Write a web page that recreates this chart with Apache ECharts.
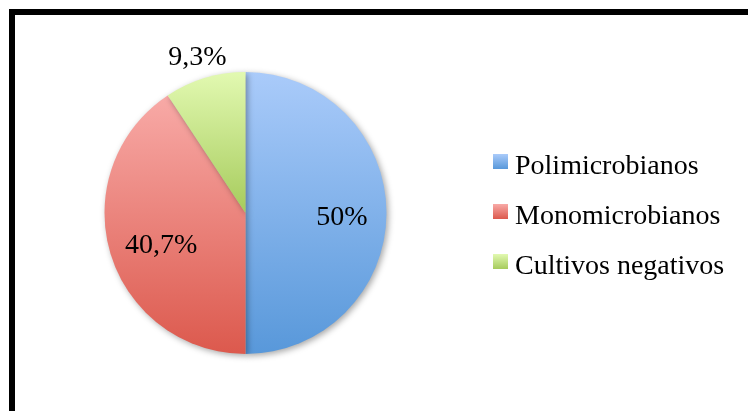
<!DOCTYPE html>
<html>
<head>
<meta charset="utf-8">
<script src="https://cdn.jsdelivr.net/npm/echarts@6/dist/echarts.min.js"></script>
<style>
  html, body { margin: 0; padding: 0; background: #fff; }
  #frame {
    position: absolute; left: 9px; top: 9px; right: 0; bottom: 0;
    border-left: 6px solid #000; border-top: 6px solid #000;
  }
  #chart { position: absolute; left: 0; top: 0; width: 748px; height: 411px; }
</style>
</head>
<body>
<div id="frame"></div>
<div id="chart"></div>
<script>
  // datos del gráfico
  var categories = ['Polimicrobianos', 'Monomicrobianos', 'Cultivos negativos']
  var values = [50, 40.7, 9.3]
  // colores degradados (arriba / abajo)
  var topColors = ['#aacbfa', '#f8aaa7', '#e2f9b1']
  var bottomColors = ['#5898da', '#dc594d', '#a6cb5c']

  function fmt (p) {
    var style = p.dataIndex === 1 ? 'r' : 't'
    return '{' + style + '|' + String(p.value).replace('.', ',') + '%}'
  }

  var mainData = categories.map(function (name, i) {
    return {
      name: name,
      value: values[i],
      itemStyle: {
        color: new echarts.graphic.LinearGradient(0, 0, 0, 1, [
          { offset: 0, color: topColors[i] },
          { offset: 1, color: bottomColors[i] }
        ])
      }
    }
  })
  // etiquetas interiores (las dos primeras) y exterior (la última)
  var innerLabelData = categories.map(function (name, i) {
    return { name: name, value: values[i], label: { show: i < 2 } }
  })
  var outerLabelData = categories.map(function (name, i) {
    return { name: name, value: values[i], label: { show: i === 2 } }
  })

  var center = [245.5, 213]
  var labelFont = { color: '#000', fontFamily: 'Liberation Serif', fontSize: 28 }
  var labelStyle = {
    position: 'inside',
    formatter: fmt,
    rich: {
      t: Object.assign({ padding: [10, 0, 0, 0] }, labelFont),
      r: Object.assign({ padding: [10, 0, 0, 16] }, labelFont)
    }
  }

  var option = {
    animation: false,
    legend: {
      orient: 'vertical',
      left: 493,
      top: 142,
      padding: 0,
      data: categories,
      icon: 'rect',
      itemWidth: 15,
      itemHeight: 15,
      itemGap: 11,
      selectedMode: false,
      formatter: '{t|{name}}',
      textStyle: {
        rich: {
          t: {
            fontFamily: 'Liberation Serif',
            fontSize: 28,
            color: '#000',
            lineHeight: 30,
            padding: [11, 0, 0, 2]
          }
        }
      }
    },
    series: [
      {
        type: 'pie',
        center: center,
        radius: [0, 141],
        startAngle: 90,
        clockwise: true,
        data: mainData,
        label: { show: false },
        labelLine: { show: false },
        emphasis: { disabled: true },
        itemStyle: {
          borderWidth: 0,
          shadowBlur: 6,
          shadowOffsetX: 2,
          shadowOffsetY: 2,
          shadowColor: 'rgba(0,0,0,0.35)'
        }
      },
      {
        type: 'pie',
        center: center,
        radius: [46, 141],
        startAngle: 90,
        silent: true,
        data: innerLabelData,
        itemStyle: { color: 'rgba(0,0,0,0)' },
        label: labelStyle,
        labelLine: { show: false },
        emphasis: { disabled: true }
      },
      {
        type: 'pie',
        center: center,
        radius: [141, 187],
        startAngle: 90,
        silent: true,
        data: outerLabelData,
        itemStyle: { color: 'rgba(0,0,0,0)' },
        label: labelStyle,
        labelLine: { show: false },
        emphasis: { disabled: true }
      }
    ]
  }

  var chart = echarts.init(document.getElementById('chart'))
  chart.setOption(option)
</script>
</body>
</html>
